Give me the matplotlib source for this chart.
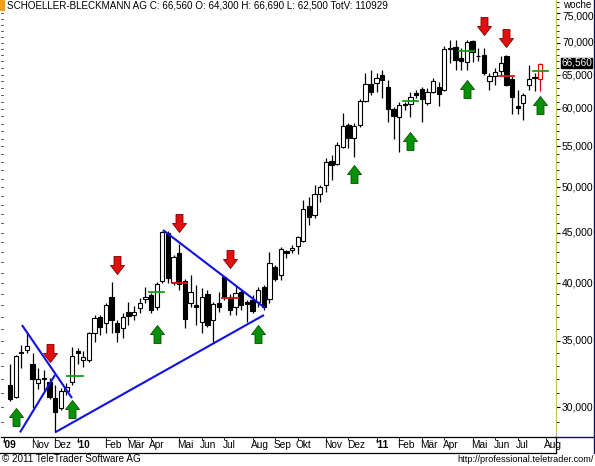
import numpy as np
import pandas as pd
import matplotlib
matplotlib.use("Agg")
import matplotlib.pyplot as plt
from matplotlib.path import Path
from matplotlib.patches import Rectangle
from matplotlib.lines import Line2D
from matplotlib.ticker import FixedLocator, NullFormatter
import matplotlib.transforms as mtransforms

plt.rcParams["font.family"] = ["Liberation Sans", "DejaVu Sans"]

# ---------------- data ----------------
title = "SCHOELLER-BLECKMANN AG C: 66,560 O: 64,300 H: 66,690 L: 62,500 TotV: 110929"
first_week = "2009-10-05"   # Monday of first weekly candle
axis_origin = "2009-09-28"  # week index 0

opens = [31.58, 30.71, 34.05, 34.25, 33.16, 31.72, 32.09, 31.79, 30.63, 29.93,
         31.14, 31.79, 34.17, 33.46, 33.46, 35.63, 36.99, 36.47, 38.74, 36.47,
         36.05, 37.42, 37.16, 37.77, 38.56, 38.92, 37.85, 40.22, 44.97, 40.12,
         42.92, 40.22, 38.21, 38.03, 36.56, 39.01, 36.73, 38.21, 40.59, 38.74,
         37.85, 39.20, 38.29, 38.47, 38.29, 39.65, 38.56, 41.54, 40.78, 43.12,
         43.22, 43.63, 44.14, 47.88, 46.88, 49.23, 50.27, 53.16, 52.79, 54.91,
         57.79, 56.08, 57.79, 61.12, 63.58, 63.72, 64.92, 63.14, 59.99, 58.88,
         60.62, 60.69, 62.26, 62.85, 60.83, 62.41, 63.14, 62.70, 69.10, 69.30,
         67.54, 66.92, 70.27, 67.86, 68.01, 64.02, 64.77, 65.53, 67.86, 64.32,
         60.41, 60.83, 63.43, 64.55, 64.30]
highs = [33.16, 33.86, 34.65, 35.71, 34.01, 32.85, 32.70, 32.09, 31.58, 31.35,
         31.72, 34.49, 34.41, 34.17, 35.71, 37.16, 37.16, 38.21, 40.12, 36.73,
         37.33, 38.29, 37.94, 38.65, 39.65, 39.10, 40.12, 45.18, 45.18, 42.72,
         43.83, 40.40, 40.78, 39.84, 39.56, 39.38, 38.29, 39.20, 40.69, 39.01,
         39.84, 39.38, 38.47, 38.92, 39.65, 39.84, 43.02, 41.73, 43.53, 43.22,
         43.73, 44.66, 48.55, 48.89, 50.27, 50.27, 53.53, 53.90, 55.56, 59.43,
         58.06, 58.06, 61.40, 65.22, 65.68, 65.22, 65.68, 64.17, 60.27, 60.97,
         60.97, 62.41, 62.70, 63.14, 63.00, 64.47, 63.87, 69.46, 70.43, 70.43,
         69.13, 70.43, 70.43, 69.13, 69.13, 65.22, 65.99, 67.86, 68.01, 64.77,
         62.70, 62.26, 66.45, 65.22, 66.69]
lows = [30.42, 30.63, 32.85, 34.01, 29.93, 31.28, 31.21, 30.56, 28.30, 29.79,
        30.85, 31.58, 33.16, 32.93, 33.31, 34.90, 35.47, 35.63, 35.63, 34.90,
        35.22, 36.30, 36.73, 37.33, 38.21, 37.33, 37.59, 40.03, 40.03, 39.84,
        39.38, 36.05, 37.85, 36.30, 35.63, 36.13, 34.90, 37.42, 38.47, 37.16,
        37.16, 37.59, 36.56, 37.33, 37.85, 37.59, 38.21, 40.22, 40.31, 42.43,
        42.92, 42.82, 44.04, 45.81, 46.55, 48.32, 49.46, 50.86, 52.66, 54.78,
        54.78, 53.65, 57.53, 60.97, 61.98, 62.41, 61.55, 58.20, 55.95, 54.28,
        59.85, 58.88, 61.55, 58.20, 60.55, 62.26, 60.41, 62.56, 66.76, 65.68,
        65.68, 65.68, 66.92, 67.07, 64.92, 62.70, 63.43, 64.92, 63.29, 59.30,
        59.30, 58.47, 62.70, 62.56, 62.50]
closes = [30.56, 33.78, 34.12, 34.57, 32.01, 32.01, 32.01, 30.71, 29.65, 31.14,
          31.43, 33.77, 34.01, 33.69, 35.63, 36.90, 36.13, 38.03, 36.73, 35.71,
          36.99, 37.07, 37.42, 38.21, 38.74, 37.59, 39.93, 45.07, 40.50, 42.53,
          39.93, 36.82, 39.20, 37.85, 38.74, 36.30, 38.12, 37.85, 38.74, 37.59,
          39.10, 38.03, 38.12, 37.50, 39.38, 37.85, 41.93, 40.40, 43.32, 42.92,
          43.42, 44.55, 47.54, 46.66, 49.23, 50.04, 53.03, 52.66, 55.17, 57.66,
          56.08, 57.66, 61.12, 63.58, 62.41, 64.47, 64.17, 59.99, 59.02, 60.55,
          60.55, 61.69, 61.98, 61.40, 62.41, 64.02, 62.12, 68.97, 68.90, 67.23,
          67.07, 70.10, 68.49, 67.80, 65.22, 64.77, 65.37, 66.76, 63.43, 61.69,
          60.13, 61.98, 64.32, 64.62, 66.56]

# signal arrows (week number, price at arrow tip)
buy_week = [2, 12, 27, 45, 62, 72, 82, 95]
buy_level = [29.93, 30.49, 36.30, 36.30, 52.66, 56.87, 64.17, 61.84]
sell_week = [8, 20, 31, 40, 85, 89]
sell_level = [33.31, 40.87, 45.07, 41.44, 71.25, 69.30]

# short stop marks (week number, price)
green_mark_week = [12.5, 27, 72, 82, 95]
green_mark_level = [32.24, 39.20, 61.12, 68.65, 65.53]
red_mark_week = [31, 40, 89]
red_mark_level = [40.03, 38.65, 64.77]

# trend lines: (week, price) start and end
trend_start_week = [3.12, 2.77, 8.97, 28.12]
trend_start_price = [36.30, 28.28, 28.28, 45.28]
trend_end_week = [11.99, 8.97, 46.03, 46.21]
trend_end_price = [30.63, 32.32, 37.16, 37.77]

y_ticks = [30, 35, 40, 45, 50, 55, 60, 65, 70, 75]
month_names = {2: "Feb", 3: "M\u00e4r", 4: "Apr", 5: "Mai", 6: "Jun",
               7: "Jul", 8: "Aug", 9: "Sep", 10: "Okt", 11: "Nov", 12: "Dez"}

# ---------------- figure ----------------
W, H = 595, 466
fig = plt.figure(figsize=(W / 100, H / 100), dpi=100)
fig.patch.set_facecolor("white")


def fx(px):
    return px / W


def fy(py):
    return 1 - py / H


ax = fig.add_axes([fx(1), fy(437), fx(556) - fx(1), fy(0) - fy(437)])
ax.set_yscale("log")
ax.set_ylim(27.98, 77.30)
ax.set_xlim(-0.6, 97.8)

origin = pd.Timestamp(axis_origin)
weeks = pd.date_range(first_week, periods=len(closes), freq="7D")
xs = np.array([(d - origin).days // 7 for d in weeks], dtype=float)

o = np.array(opens)
h = np.array(highs)
l = np.array(lows)
c = np.array(closes)
n = len(c)
bw = 0.76
for i in range(n):
    last = i == n - 1
    col = "#e00000" if last else "black"
    ax.vlines(xs[i], l[i], h[i], color=col, lw=0.9, zorder=2)
    lo, hi = min(o[i], c[i]), max(o[i], c[i])
    if hi / lo < 1.0015:
        hi = lo * 1.0015
    up = c[i] >= o[i]
    face = "white" if (up or last) else "black"
    ax.bar(xs[i], hi - lo, bottom=lo, width=bw, color=face, edgecolor=col,
           linewidth=0.8, zorder=3)

# stop marks
for wk, lv in zip(green_mark_week, green_mark_level):
    ax.plot([wk - 1.35, wk + 1.35], [lv, lv], color="#10a010", lw=1.3, zorder=4)
for wk, lv in zip(red_mark_week, red_mark_level):
    ax.plot([wk - 1.35, wk + 1.35], [lv, lv], color="#e01010", lw=1.3, zorder=4)

# trend lines
for x0, p0, x1, p1 in zip(trend_start_week, trend_start_price, trend_end_week, trend_end_price):
    ax.plot([x0, x1], [p0, p1], color="#1010e0", lw=1.5, zorder=5, solid_capstyle="butt")

# arrows: tip at (0,0)
up_verts = [(0, 0), (-7, -9), (-3.5, -9), (-3.5, -18), (3.5, -18), (3.5, -9), (7, -9), (0, 0)]
codes = [Path.MOVETO] + [Path.LINETO] * 6 + [Path.CLOSEPOLY]
up_path = Path(up_verts, codes)
dn_path = Path([(x, -y) for x, y in up_verts], codes)
msz = 18 * 72 / 100 * 2
ax.plot(buy_week, buy_level, ls="none", marker=up_path, markersize=msz,
        mfc="#089008", mec="#035003", mew=0.6, zorder=6)
ax.plot(sell_week, sell_level, ls="none", marker=dn_path, markersize=msz,
        mfc="#e01010", mec="#800000", mew=0.6, zorder=6)

# y axis tick marks on the right
ax.yaxis.set_ticks_position("right")
ax.yaxis.set_major_locator(FixedLocator(y_ticks))
ax.yaxis.set_major_formatter(NullFormatter())
ax.yaxis.set_minor_locator(FixedLocator(np.arange(28, 78, 1.0)))
ax.yaxis.set_minor_formatter(NullFormatter())
ax.tick_params(axis="y", which="major", direction="out", length=3, width=0.8,
               left=False, right=True, labelleft=False, labelright=False)
ax.tick_params(axis="y", which="minor", direction="out", length=2, width=0.6,
               left=False, right=True)

# left edge small tick marks
for v in np.arange(28, 78, 1.0):
    ax.plot([-0.6, -0.25], [v, v], color="#404040", lw=0.6, clip_on=False, zorder=1)

# right-hand price labels (the top one nudged down as in the reference)
ytrans = ax.get_yaxis_transform()
for v in y_ticks:
    off = -4 if v == 75 else (-1 if v == 65 else 0)
    t = mtransforms.offset_copy(ytrans, fig=fig, x=6, y=off, units="dots")
    ax.text(1.0, v, f"{v:.3f}".replace(".", ","), transform=t, ha="left",
            va="center", fontsize=7.5, color="black", clip_on=False, zorder=9)

# x axis month labels: placed at the week of the month's first trading day
month_pos, month_lab, month_bold = [], [], []
m = pd.Timestamp("2009-10-01")
while m <= pd.Timestamp("2011-08-01"):
    d = m
    while d.weekday() >= 5:
        d = d + pd.Timedelta(days=1)
    wk = (d - origin).days // 7
    if m.month == 1 or m == pd.Timestamp("2009-10-01"):
        lab = "'" + str(m.year)[2:]
        bold = True
    else:
        lab = month_names[m.month]
        bold = False
    month_pos.append(wk)
    month_lab.append(lab)
    month_bold.append(bold)
    m = m + pd.DateOffset(months=1)

ax.set_xticks(month_pos)
ax.set_xticklabels([])
ax.tick_params(axis="x", direction="out", length=2, width=0.6)
for wk, lab, bold in zip(month_pos, month_lab, month_bold):
    ax.text(wk - 0.3, -0.019, lab, transform=ax.get_xaxis_transform(), ha="left",
            va="center", fontsize=7.3, fontweight="bold" if bold else "normal",
            color="black", clip_on=False)

for side in ["top", "left"]:
    ax.spines[side].set_visible(False)
ax.spines["right"].set_color("#c8c060")
ax.spines["right"].set_linestyle((0, (1, 1)))
ax.spines["bottom"].set_color("black")
ax.spines["bottom"].set_linewidth(0.9)

# frame lines of axis band
fig.add_artist(Line2D([0, fx(556)], [fy(453), fy(453)], color="black", lw=0.9))
fig.add_artist(Line2D([fx(556), fx(556)], [fy(437), fy(453)], color="black", lw=0.9))
fig.add_artist(Line2D([fx(594), fx(594)], [fy(0), fy(453)], color="#101060", lw=1.0))
fig.add_artist(Line2D([fx(556), fx(594)], [fy(437), fy(437)], color="#101060", lw=1.0))

# title and notes
fig.add_artist(Rectangle((0, fy(10)), fx(4), fy(0) - fy(10), color="#f0a020"))
fig.text(fx(7), fy(6), title, fontsize=7.1, ha="left", va="center", color="black")
fig.text(fx(563), fy(5), "woche", fontsize=7.1, ha="left", va="center", color="black")
fig.text(fx(2), fy(459), "\u00a9 2011 TeleTrader Software AG", fontsize=7.1,
         ha="left", va="center", color="black")
fig.text(fx(594), fy(459), "http://professional.teletrader.com/", fontsize=6.6,
         ha="right", va="center", color="black")

# last price box
t_last = mtransforms.offset_copy(ytrans, fig=fig, x=5, y=1.5, units="dots")
ax.text(1.0, c[-1], "66,560", transform=t_last, fontsize=7.2, color="white",
        va="center", ha="left", clip_on=False, zorder=10,
        bbox=dict(boxstyle="square,pad=0.02", fc="black", ec="black"))

fig.savefig("out.png", dpi=100)
